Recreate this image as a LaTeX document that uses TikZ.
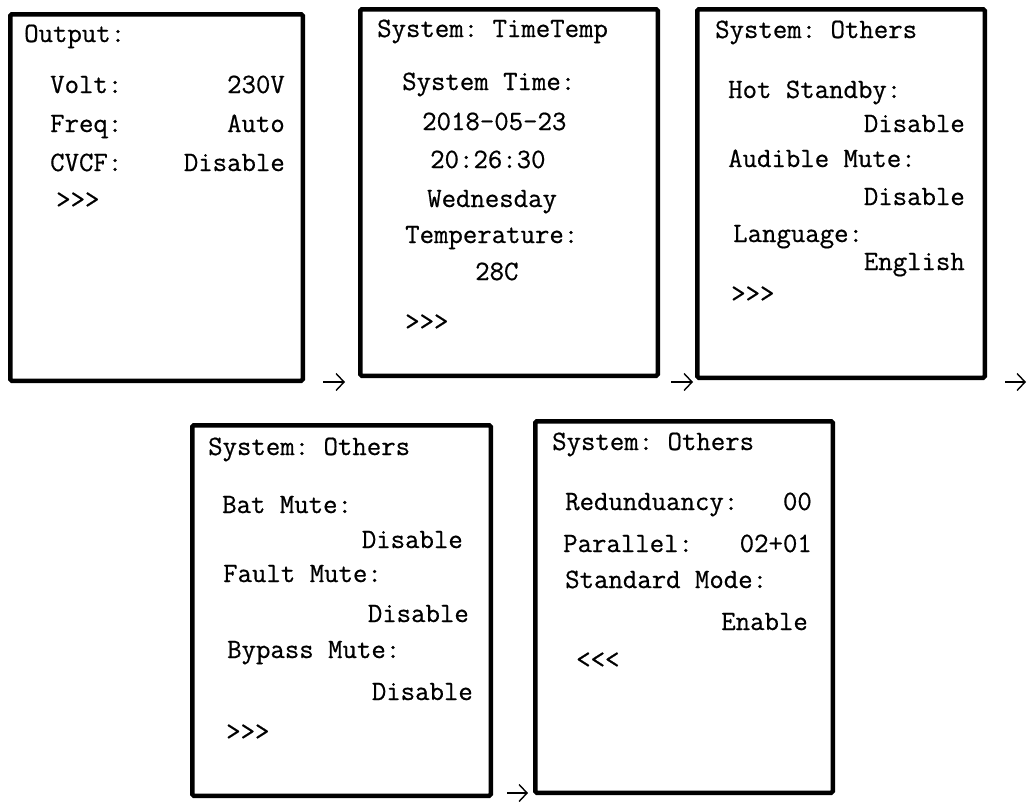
\documentclass[tikz,border=0pt]{standalone}
\usepackage{fontspec}
\setmonofont{Latin Modern Mono}[FakeBold=0.6]
\usetikzlibrary{arrows.meta}
\begin{document}
\begin{tikzpicture}[x=1pt,y=-1pt,
  screen/.style={draw, line width=4.5pt, rounded corners=1.5pt, minimum width=#1, inner sep=0pt},
  lt/.style={anchor=base west, inner sep=0pt, font=\fontsize{28}{30}\selectfont\ttfamily},
  rt/.style={anchor=base east, inner sep=0pt, font=\fontsize{28}{30}\selectfont\ttfamily},
  arr/.style={line width=1.4pt, -{Straight Barb[length=8pt,width=17pt,line width=1.4pt]}}]
\useasboundingbox (0,0) rectangle (1027,803);
\fill[white] (0,0) rectangle (1027,803);
% screens
\node[screen=292.5pt, minimum height=366.5pt] (b1) at (156.5,197.5) {};
\node[screen=297.5pt, minimum height=366.5pt] (b2) at (509,192.5) {};
\node[screen=287.5pt, minimum height=368.5pt] (b3) at (841,193.5) {};
\node[screen=298.5pt, minimum height=370.5pt] (b4) at (341.5,610.5) {};
\node[screen=297.5pt, minimum height=371.5pt] (b5) at (684,607) {};
% box 1
\node[lt] (t11) at (24,42) {Output:};
\node[lt] (t12) at (50,93) {Volt:};
\node[rt] (t13) at (285,93) {230V};
\node[lt] (t14) at (50,132) {Freq:};
\node[rt] (t15) at (285,132) {Auto};
\node[lt] (t16) at (50,171) {CVCF:};
\node[rt] (t17) at (285,171) {Disable};
\node[lt] (t18) at (56,208) {>>>};
% box 2
\node[lt] (t21) at (377,37) {System: TimeTemp};
\node[lt] (t22) at (402,90) {System Time:};
\node[lt] (t23) at (422,130) {2018-05-23};
\node[lt] (t24) at (430,168) {20:26:30};
\node[lt] (t25) at (427,207) {Wednesday};
\node[lt] (t26) at (405,243) {Temperature:};
\node[lt] (t27) at (475,280) {28C};
\node[lt] (t28) at (405,330) {>>>};
% box 3
\node[lt] (t31) at (715,38) {System: Others};
\node[lt] (t32) at (728,98) {Hot Standby:};
\node[rt] (t33) at (965,132) {Disable};
\node[lt] (t34) at (728,167) {Audible Mute:};
\node[rt] (t35) at (965,205) {Disable};
\node[lt] (t36) at (733,242) {Language:};
\node[rt] (t37) at (965,270) {English};
\node[lt] (t38) at (731,302) {>>>};
% box 4
\node[lt] (t41) at (208,455) {System: Others};
\node[lt] (t42) at (222,513) {Bat Mute:};
\node[rt] (t43) at (463,548) {Disable};
\node[lt] (t44) at (223,582) {Fault Mute:};
\node[rt] (t45) at (469,622) {Disable};
\node[lt] (t46) at (227,658) {Bypass Mute:};
\node[rt] (t47) at (473,700) {Disable};
\node[lt] (t48) at (226,740) {>>>};
% box 5
\node[lt] (t51) at (552,450) {System: Others};
\node[lt] (t52) at (565,510) {Redunduancy:};
\node[rt] (t53) at (812,510) {00};
\node[lt] (t54) at (563,552) {Parallel:};
\node[rt] (t55) at (812,552) {02+01};
\node[lt] (t56) at (565,588) {Standard Mode:};
\node[rt] (t57) at (808,630) {Enable};
\node[lt] (t58) at (576,668) {<<<};
% arrows
\coordinate (a1s) at (323,382); \coordinate (a1e) at (345,382);
\coordinate (a2s) at (671,382); \coordinate (a2e) at (693,382);
\coordinate (a3s) at (1005,382); \coordinate (a3e) at (1026,382);
\coordinate (a4s) at (507,793); \coordinate (a4e) at (528,793);
\draw[arr] (a1s) -- (a1e);
\draw[arr] (a2s) -- (a2e);
\draw[arr] (a3s) -- (a3e);
\draw[arr] (a4s) -- (a4e);
\end{tikzpicture}
\end{document}
